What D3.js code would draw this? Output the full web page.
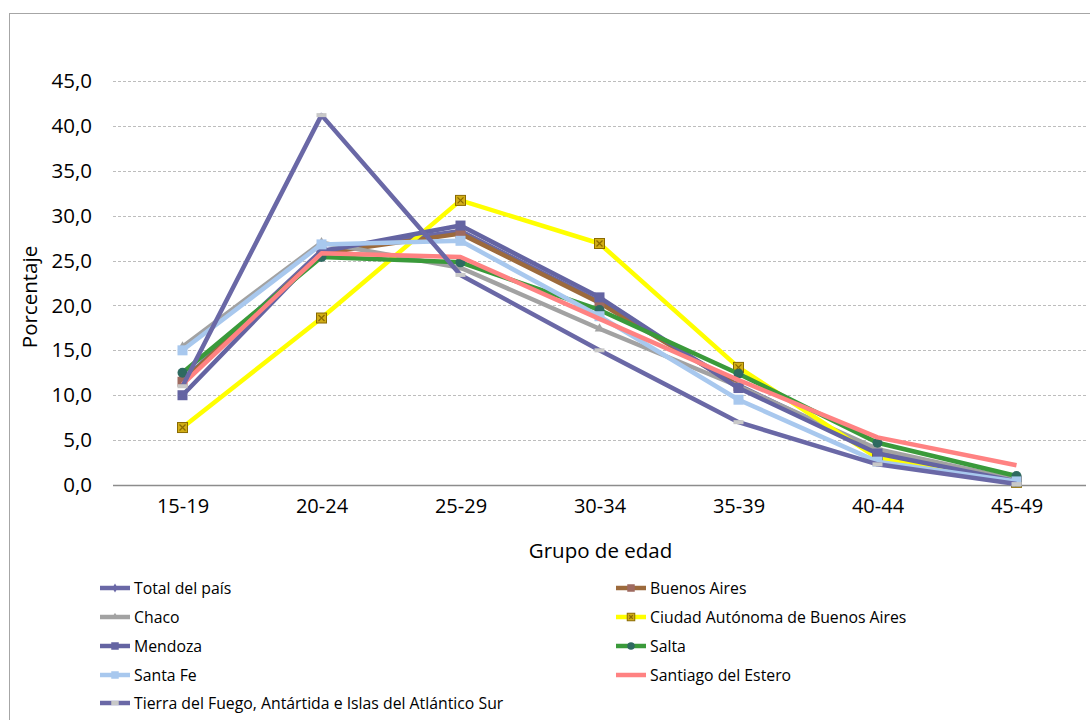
<!DOCTYPE html>
<html>
<head>
<meta charset="utf-8">
<script src="https://cdn.jsdelivr.net/npm/d3@7"></script>
<style>
  html, body { margin: 0; padding: 0; background: #fff; }
  svg { display: block; }
  text { font-family: "Open Sans", "Noto Sans", sans-serif; fill: #000; }
</style>
</head>
<body>
<svg id="chart" width="1090" height="720"></svg>
<script>
// Age groups on the x axis
const categories = ["15-19", "20-24", "25-29", "30-34", "35-39", "40-44", "45-49"];

// Y axis ticks (percent)
const yTicks = [0, 5, 10, 15, 20, 25, 30, 35, 40, 45];

// Percentage of births by mother's age group, per jurisdiction
const totalPais      = [11.6, 26.1, 28.3, 20.4, 11.1, 3.7, 0.5];
const buenosAires    = [11.5, 25.8, 28.0, 20.3, 11.0, 3.6, 0.5];
const chaco          = [15.4, 27.0, 24.2, 17.4, 11.0, 4.0, 0.6];
const caba           = [6.4, 18.6, 31.7, 26.9, 13.1, 3.0, 0.3];
const mendoza        = [10.0, 26.0, 28.9, 20.9, 10.8, 3.5, 0.4];
const salta          = [12.5, 25.4, 24.8, 19.5, 12.4, 4.7, 1.0];
const santaFe        = [15.0, 26.8, 27.2, 18.8, 9.5, 2.6, 0.4];
const santiago       = [11.2, 25.8, 25.4, 18.5, 11.7, 5.3, 2.2];
const tierraDelFuego = [11.0, 41.2, 23.4, 15.0, 7.0, 2.3, 0.1];

const seriesNames = [
  "Total del país", "Buenos Aires", "Chaco", "Ciudad Autónoma de Buenos Aires",
  "Mendoza", "Salta", "Santa Fe", "Santiago del Estero",
  "Tierra del Fuego, Antártida e Islas del Atlántico Sur"
];
const seriesValues = [totalPais, buenosAires, chaco, caba, mendoza, salta, santaFe, santiago, tierraDelFuego];

// Line / marker styling per series
const styles = [
  { line: "#6A68A6", marker: "diamond", fill: "#6A68A6", stroke: "#6A68A6" },
  { line: "#9C6A3C", marker: "square",  fill: "#9E6A60", stroke: "#9E6A60" },
  { line: "#A2A2A2", marker: "triangle", fill: "#A2A2A2", stroke: "#A2A2A2" },
  { line: "#FFFF00", marker: "boxx",    fill: "#D2AE16", stroke: "#8A6A00" },
  { line: "#6464A2", marker: "square",  fill: "#6464A2", stroke: "#6464A2" },
  { line: "#3A9A3A", marker: "circle",  fill: "#2E6A60", stroke: "#2E6A60" },
  { line: "#A8C8EE", marker: "square",  fill: "#A8C8EE", stroke: "#A8C8EE" },
  { line: "#FF8282", marker: "none",    fill: "none",    stroke: "none" },
  { line: "#6A68A6", marker: "dash",    fill: "#C8C8C8", stroke: "none" }
];

const fmt = v => d3.format(".1f")(v).replace(".", ",");

const svg = d3.select("#chart");

// Chart frame
svg.append("rect")
  .attr("x", 9.5).attr("y", 13.5)
  .attr("width", 1100).attr("height", 720)
  .attr("fill", "#fff").attr("stroke", "#A6A6A6").attr("stroke-width", 1);

const plot = { left: 113, right: 1086, top: 81, bottom: 485 };

const x = d3.scalePoint().domain(categories).range([plot.left, plot.right]).padding(0.5);
const y = d3.scaleLinear().domain([0, 45]).range([plot.bottom, plot.top]);

// Gridlines
svg.append("g")
  .selectAll("line")
  .data(yTicks.filter(t => t > 0))
  .join("line")
  .attr("x1", plot.left).attr("x2", plot.right)
  .attr("y1", d => Math.round(y(d)) + 0.5).attr("y2", d => Math.round(y(d)) + 0.5)
  .attr("stroke", "#BDBDBD").attr("stroke-width", 1)
  .attr("stroke-dasharray", "3,2");

// Y axis labels
const yAxis = d3.axisLeft(y).tickValues(yTicks).tickFormat(fmt).tickSize(0).tickPadding(21);
const gy = svg.append("g").attr("transform", `translate(${plot.left},0)`).call(yAxis);
gy.select(".domain").remove();
gy.selectAll("text").attr("font-size", 20.5).attr("font-family", "Open Sans").attr("fill", "#000");

// X axis
const xAxis = d3.axisBottom(x).tickSize(0).tickPadding(13);
const gx = svg.append("g").attr("transform", `translate(0,${Math.round(plot.bottom) + 0.5})`).call(xAxis);
gx.select(".domain").attr("stroke", "#8C8C8C").attr("stroke-width", 1.5)
  .attr("d", `M${plot.left},0H${plot.right}`);
gx.selectAll("text").attr("font-size", 20).attr("font-family", "Open Sans").attr("fill", "#000");

// Axis titles
svg.append("text")
  .attr("x", (plot.left + plot.right) / 2 + 1).attr("y", 558)
  .attr("text-anchor", "middle").attr("font-size", 20.5)
  .text("Grupo de edad");

svg.append("text")
  .attr("transform", `translate(37,${(plot.top + plot.bottom) / 2 + 14}) rotate(-90)`)
  .attr("text-anchor", "middle").attr("font-size", 20.5)
  .text("Porcentaje");

// Marker drawing helper
function drawMarker(g, type, cx, cy, st, scale = 1) {
  const s = scale;
  if (type === "square") {
    g.append("rect").attr("x", cx - 5 * s).attr("y", cy - 5 * s)
      .attr("width", 10 * s).attr("height", 10 * s).attr("fill", st.fill);
  } else if (type === "diamond") {
    g.append("path").attr("d", d3.symbol(d3.symbolDiamond, 40 * s * s)())
      .attr("transform", `translate(${cx},${cy})`).attr("fill", st.fill);
  } else if (type === "triangle") {
    g.append("path").attr("d", d3.symbol(d3.symbolTriangle, 40 * s * s)())
      .attr("transform", `translate(${cx},${cy})`).attr("fill", st.fill);
  } else if (type === "circle") {
    g.append("circle").attr("cx", cx).attr("cy", cy).attr("r", 5 * s).attr("fill", st.fill);
  } else if (type === "boxx") {
    const h = 5 * s;
    g.append("rect").attr("x", cx - h).attr("y", cy - h).attr("width", 2 * h).attr("height", 2 * h)
      .attr("fill", st.fill).attr("stroke", st.stroke).attr("stroke-width", 1);
    g.append("path").attr("d", `M${cx - h + 2},${cy - h + 2}L${cx + h - 2},${cy + h - 2}M${cx + h - 2},${cy - h + 2}L${cx - h + 2},${cy + h - 2}`)
      .attr("stroke", st.stroke).attr("stroke-width", 1.3);
  } else if (type === "dash") {
    g.append("rect").attr("x", cx - 5 * s).attr("y", cy - 2).attr("width", 10 * s).attr("height", 4)
      .attr("fill", st.fill);
  }
}

const line = d3.line().x((d, i) => x(categories[i])).y(d => y(d));

// Series lines with markers
seriesValues.forEach((vals, k) => {
  const st = styles[k];
  const g = svg.append("g").attr("class", "series");
  g.append("path").datum(vals).attr("d", line)
    .attr("fill", "none").attr("stroke", st.line).attr("stroke-width", 4.5)
    .attr("stroke-linejoin", "round");
  vals.forEach((v, i) => drawMarker(g, st.marker, x(categories[i]), y(v), st));
});

// Legend (two columns)
const legendRows = [588, 617, 646, 675, 703];
seriesNames.forEach((name, k) => {
  const col = k % 2;
  const row = Math.floor(k / 2);
  const lx = col === 0 ? 100 : 616;
  const ly = legendRows[row];
  const st = styles[k];
  const g = svg.append("g");
  g.append("line").attr("x1", lx).attr("x2", lx + 30).attr("y1", ly).attr("y2", ly)
    .attr("stroke", st.line).attr("stroke-width", 4.5);
  drawMarker(g, st.marker, lx + 15, ly, st, 0.75);
  g.append("text").attr("x", lx + 34).attr("y", ly + 5.5)
    .attr("font-size", 15.8).text(name);
});
</script>
</body>
</html>
